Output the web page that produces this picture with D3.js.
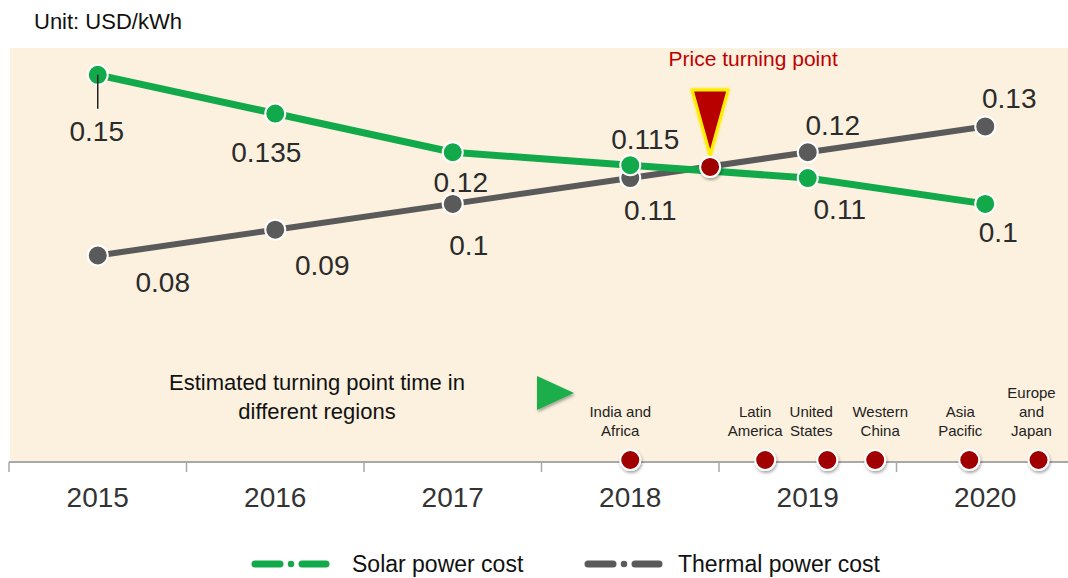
<!DOCTYPE html>
<meta charset="utf-8">
<html>
<head>
<style>
  body { margin: 0; background: #fff; }
  svg { display: block; font-family: Arial, "Liberation Sans", sans-serif; }
  .val { font-size: 28px; fill: #2b2b2b; text-anchor: middle; }
  .year { font-size: 28px; fill: #333; text-anchor: middle; }
  .region { font-size: 15px; fill: #222; text-anchor: middle; }
</style>
</head>
<body>
<svg width="1068" height="578"></svg>
<script src="https://cdn.jsdelivr.net/npm/d3@7"></script>
<script>

// data
var years = ["2015", "2016", "2017", "2018", "2019", "2020"];
var solarCost = [0.15, 0.135, 0.12, 0.115, 0.11, 0.1];
var thermalCost = [0.08, 0.09, 0.1, 0.11, 0.12, 0.13];
var turningYear = 2018.45, turningValue = 0.1143;
var regionNames = [["India and", "Africa"], ["Latin", "America"], ["United", "States"],
                   ["Western", "China"], ["Asia", "Pacific"], ["Europe", "and", "Japan"]];
var regionTimes = [2018.0, 2018.76, 2019.11, 2019.38, 2019.91, 2020.3];

// label placement (dx, dy from the point)
var solarLabelPos = [[-1, 66], [-9, 48], [8, 40], [15, -16], [32, 41], [13, 38]];
var thermalLabelPos = [[65, 36], [47, 45], [16, 51], [20, 42], [25, -17], [24, -18]];
var regionLabelDx = [-10, -10, -16, 5, -9, -7];

var svg = d3.select("svg");
var green = "#12a94a", grey = "#5a5a5a", red = "#a00000";

var defs = svg.append("defs");
var shadow = defs.append("filter").attr("id", "shadow")
    .attr("x", "-50%").attr("y", "-50%").attr("width", "200%").attr("height", "200%");
shadow.append("feDropShadow").attr("dx", 1).attr("dy", 2).attr("stdDeviation", 1.5)
    .attr("flood-color", "#000").attr("flood-opacity", 0.35);
var glow = defs.append("filter").attr("id", "glow")
    .attr("x", "-50%").attr("y", "-50%").attr("width", "200%").attr("height", "200%");
glow.append("feDropShadow").attr("dx", 0).attr("dy", 0).attr("stdDeviation", 1.5)
    .attr("flood-color", "#ffe600").attr("flood-opacity", 0.9);

var x = d3.scaleBand().domain(years).range([9, 1074]);
var cx = function(i) { return x(years[i]) + x.bandwidth() / 2; };
var t = d3.scaleLinear().domain([2015, 2020]).range([cx(0), cx(5)]);
var y = d3.scaleLinear().domain([0, 0.16]).range([462, 49]);

// background panel
svg.append("rect").attr("x", 10).attr("y", 48).attr("width", 1058).attr("height", 414)
    .attr("fill", "#fcf1df");

svg.append("text").attr("x", 34).attr("y", 29).attr("font-size", 22).attr("fill", "#111")
    .text("Unit: USD/kWh");

// axis
var axis = svg.append("g").attr("transform", "translate(0,462)");
axis.append("line").attr("x1", 9).attr("x2", 1068).attr("stroke", "#a8a8a8").attr("stroke-width", 2);
axis.selectAll(".tickmark").data(years).enter().append("line")
    .attr("x1", function(d) { return x(d); }).attr("x2", function(d) { return x(d); })
    .attr("y1", 0).attr("y2", 10).attr("stroke", "#a8a8a8").attr("stroke-width", 1.5);
svg.selectAll(".year").data(years).enter().append("text").attr("class", "year")
    .attr("x", function(d, i) { return cx(i); }).attr("y", 507).text(function(d) { return d; });

// lines
var line = d3.line().x(function(d, i) { return cx(i); }).y(function(d) { return y(d); });
svg.append("path").datum(thermalCost).attr("d", line).attr("fill", "none")
    .attr("stroke", grey).attr("stroke-width", 6);
svg.append("path").datum(solarCost).attr("d", line).attr("fill", "none")
    .attr("stroke", green).attr("stroke-width", 7);

function dots(values, color) {
  svg.append("g").selectAll("circle").data(values).enter().append("circle")
      .attr("cx", function(d, i) { return cx(i); }).attr("cy", function(d) { return y(d); })
      .attr("r", 10).attr("fill", color).attr("stroke", "#fff").attr("stroke-width", 2);
}
dots(thermalCost, grey);
dots(solarCost, green);

function labels(values, pos) {
  svg.append("g").selectAll("text").data(values).enter().append("text").attr("class", "val")
      .attr("x", function(d, i) { return cx(i) + pos[i][0]; })
      .attr("y", function(d, i) { return y(d) + pos[i][1]; })
      .text(function(d) { return d; });
}
labels(solarCost, solarLabelPos);
labels(thermalCost, thermalLabelPos);

// leader for first solar label
svg.append("line").attr("x1", cx(0)).attr("x2", cx(0))
    .attr("y1", y(solarCost[0])).attr("y2", y(solarCost[0]) + 34)
    .attr("stroke", "#222").attr("stroke-width", 1.5);

// turning point
var tpx = t(turningYear), tpy = y(turningValue);
svg.append("path")
    .attr("d", "M" + (tpx - 18) + "," + (tpy - 77) + "L" + (tpx + 18) + "," + (tpy - 77) + "L" + tpx + "," + (tpy - 12) + "Z")
    .attr("fill", "#b80000").attr("stroke", "#ffee00").attr("stroke-width", 3)
    .attr("stroke-linejoin", "round").attr("filter", "url(#glow)");
svg.append("circle").attr("cx", tpx).attr("cy", tpy).attr("r", 10)
    .attr("fill", red).attr("stroke", "#fff").attr("stroke-width", 2).attr("filter", "url(#shadow)");
svg.append("text").attr("x", tpx + 43).attr("y", 66).attr("text-anchor", "middle")
    .attr("font-size", 21).attr("fill", "#c00000").text("Price turning point");

// regions
svg.append("text").attr("x", 317).attr("y", 390).attr("text-anchor", "middle")
    .attr("font-size", 22).attr("fill", "#111").text("Estimated turning point time in");
svg.append("text").attr("x", 317).attr("y", 419).attr("text-anchor", "middle")
    .attr("font-size", 22).attr("fill", "#111").text("different regions");
svg.append("path").attr("d", "M537,376L574,393L537,410Z").attr("fill", "#1aae4c")
    .attr("filter", "url(#shadow)");

var reg = svg.append("g").selectAll("g").data(regionTimes).enter().append("g");
reg.append("circle").attr("cx", function(d) { return t(d); }).attr("cy", 460).attr("r", 10)
    .attr("fill", red).attr("stroke", "#fff").attr("stroke-width", 2).attr("filter", "url(#shadow)");
reg.each(function(d, i) {
  var lines = regionNames[i];
  var txt = d3.select(this).append("text").attr("class", "region");
  lines.forEach(function(l, j) {
    txt.append("tspan").attr("x", t(d) + regionLabelDx[i])
        .attr("y", 436 - (lines.length - 1 - j) * 19).text(l);
  });
});

// legend
var legend = [["Solar power cost", green, 252, 352], ["Thermal power cost", grey, 585, 678]];
legend.forEach(function(l) {
  var g = svg.append("g");
  g.append("line").attr("x1", l[2] + 3).attr("x2", l[2] + 28).attr("y1", 564).attr("y2", 564)
      .attr("stroke", l[1]).attr("stroke-width", 7).attr("stroke-linecap", "round");
  g.append("line").attr("x1", l[2] + 50).attr("x2", l[2] + 74).attr("y1", 564).attr("y2", 564)
      .attr("stroke", l[1]).attr("stroke-width", 7).attr("stroke-linecap", "round");
  g.append("circle").attr("cx", l[2] + 39).attr("cy", 564).attr("r", 4)
      .attr("fill", l[1]).attr("stroke", "#fff").attr("stroke-width", 1.5);
  g.append("text").attr("x", l[3]).attr("y", 572).attr("font-size", 23).attr("fill", "#111").text(l[0]);
});

</script>
</body>
</html>
